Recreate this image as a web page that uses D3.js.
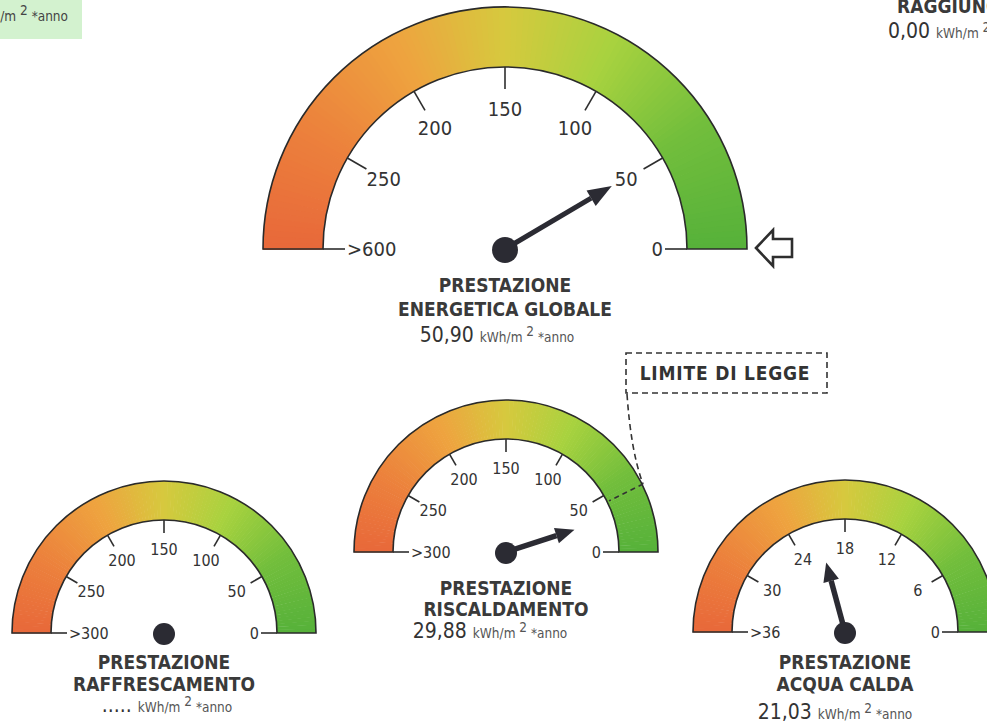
<!DOCTYPE html>
<html>
<head>
<meta charset="utf-8">
<script src="https://cdn.jsdelivr.net/npm/d3@7"></script>
<style>
body { margin: 0; background: #fff; }
text { font-family: "DejaVu Sans Condensed", "DejaVu Sans", sans-serif; fill: #333; }
</style>
</head>
<body>
<div class="graph"></div>
<script>

//data

var gaugeTitles = [
	["PRESTAZIONE", "ENERGETICA GLOBALE"],
	["PRESTAZIONE", "RISCALDAMENTO"],
	["PRESTAZIONE", "RAFFRESCAMENTO"],
	["PRESTAZIONE", "ACQUA CALDA"]
];
var gaugeMax = [300, 300, 300, 36];
var gaugeValues = [50.90, 29.88, null, 21.03];
var valueLabels = ["50,90", "29,88", ".....", "21,03"];
var tickLabels = [
	["0", "50", "100", "150", "200", "250", ">600"],
	["0", "50", "100", "150", "200", "250", ">300"],
	["0", "50", "100", "150", "200", "250", ">300"],
	["0", "6", "12", "18", "24", "30", ">36"]
];
var limitValue = 44;        // limite di legge, riscaldamento
var limitText = "LIMITE DI LEGGE";
var unitText = "kWh/m";

//layout (positions only)

var svgWidth = 987;
var svgHeight = 722;

var layout = [
	{cx: 505, cy: 249, R: 242, r: 182, tick: 22, labelR: 140, endLine: 22, hub: 13, needle: 124, head: 24, headW: 9, font: 20, titleY: [285, 309], valueY: 342, valueX: 497},
	{cx: 506, cy: 552, R: 152, r: 113, tick: 13, labelR: 84, endLine: 16, hub: 11, needle: 72, head: 19, headW: 8, font: 16, titleY: [588, 609], valueY: 638, valueX: 490},
	{cx: 164, cy: 633, R: 152, r: 113, tick: 13, labelR: 84, endLine: 16, hub: 11, needle: 72, head: 19, headW: 8, font: 16, titleY: [662, 684], valueY: 712, valueX: 167},
	{cx: 845, cy: 632, R: 152, r: 113, tick: 13, labelR: 84, endLine: 16, hub: 11, needle: 72, head: 19, headW: 8, font: 16, titleY: [662, 684], valueY: 719, valueX: 835}
];

var bandColor = d3.scaleLinear()
	.domain([0, 0.18, 0.35, 0.5, 0.65, 0.82, 1])
	.range(["#e8683a", "#ec823c", "#eea43f", "#d6c93e", "#a9d23f", "#72be3c", "#56b13a"]);

var svg = d3.select("div.graph")
		.append("svg")
		.attr("width", svgWidth)
		.attr("height", svgHeight)
		.style("display", "block");

function pt(g, a, rad) {
	return [g.cx + rad * Math.cos(a), g.cy - rad * Math.sin(a)];
}

function renderGauge(k) {

	var g = layout[k];
	var max = gaugeMax[k];
	var angle = d3.scaleLinear().domain([0, max]).range([0, Math.PI]);
	var grp = svg.append("g");

	// colour band, small slices along the arc
	var steps = d3.range(120);
	var arc = d3.arc().innerRadius(g.r).outerRadius(g.R);
	grp.append("g")
		.attr("transform", "translate(" + g.cx + "," + g.cy + ")")
		.selectAll("path")
		.data(steps)
		.enter()
		.append("path")
		.attr("d", function(d) {
			var a0 = Math.PI * d / 120, a1 = Math.PI * (d + 1) / 120;
			return arc({startAngle: Math.PI / 2 - a1 - 0.004, endAngle: Math.PI / 2 - a0});
		})
		.attr("fill", function(d) { return bandColor(1 - (d + 0.5) / 120); });

	grp.append("path")
		.attr("transform", "translate(" + g.cx + "," + g.cy + ")")
		.attr("d", arc({startAngle: -Math.PI / 2, endAngle: Math.PI / 2}))
		.attr("fill", "none")
		.attr("stroke", "#2a2a2a")
		.attr("stroke-width", 1.6);

	// ticks and labels
	var ticks = d3.range(7).map(function(i) { return i * max / 6; });

	grp.selectAll("line.tick")
		.data(ticks.slice(1, 6))
		.enter()
		.append("line")
		.attr("class", "tick")
		.attr("x1", function(d) { return pt(g, angle(d), g.r)[0]; })
		.attr("y1", function(d) { return pt(g, angle(d), g.r)[1]; })
		.attr("x2", function(d) { return pt(g, angle(d), g.r - g.tick)[0]; })
		.attr("y2", function(d) { return pt(g, angle(d), g.r - g.tick)[1]; })
		.attr("stroke", "#2e2e2e")
		.attr("stroke-width", 1.6);

	grp.selectAll("text.tl")
		.data(ticks.slice(1, 6))
		.enter()
		.append("text")
		.attr("class", "tl")
		.attr("x", function(d) { return pt(g, angle(d), g.labelR)[0]; })
		.attr("y", function(d) { return pt(g, angle(d), g.labelR)[1]; })
		.attr("dy", "0.36em")
		.attr("text-anchor", "middle")
		.style("font-size", g.font + "px")
		.text(function(d, i) { return tickLabels[k][i + 1]; });

	// end ticks along the base line
	[0, 6].forEach(function(i) {
		var side = i === 0 ? 1 : -1;
		var x0 = g.cx + side * g.r;
		grp.append("line")
			.attr("x1", x0).attr("y1", g.cy)
			.attr("x2", x0 - side * g.endLine).attr("y2", g.cy)
			.attr("stroke", "#2e2e2e")
			.attr("stroke-width", 1.6);
		grp.append("text")
			.attr("x", x0 - side * (g.endLine + 2))
			.attr("y", g.cy)
			.attr("dy", "0.36em")
			.attr("text-anchor", i === 0 ? "end" : "start")
			.style("font-size", g.font + "px")
			.text(tickLabels[k][i]);
	});

	// needle
	if (gaugeValues[k] !== null) {
		var a = angle(gaugeValues[k]);
		var tip = pt(g, a, g.needle);
		var base = pt(g, a, g.needle - g.head);
		var px = Math.sin(a) * g.headW, py = Math.cos(a) * g.headW;
		grp.append("line")
			.attr("x1", g.cx).attr("y1", g.cy)
			.attr("x2", base[0]).attr("y2", base[1])
			.attr("stroke", "#2b2b33")
			.attr("stroke-width", k === 0 ? 5 : 5.5);
		grp.append("path")
			.attr("d", "M" + tip + "L" + [base[0] + px, base[1] + py] + "L" + [base[0] - px, base[1] - py] + "Z")
			.attr("fill", "#2b2b33");
	}
	grp.append("circle")
		.attr("cx", g.cx).attr("cy", g.cy + 1)
		.attr("r", g.hub)
		.attr("fill", "#2b2b33");

	// title and value
	grp.selectAll("text.title")
		.data(gaugeTitles[k])
		.enter()
		.append("text")
		.attr("class", "title")
		.attr("x", g.cx)
		.attr("y", function(d, i) { return g.titleY[i]; })
		.attr("dy", "0.36em")
		.attr("text-anchor", "middle")
		.style("font-size", "19px")
		.style("font-weight", "bold")
		.style("fill", "#3a3a3a")
		.text(function(d) { return d; });

	valueLine(grp, g.valueX, g.valueY, valueLabels[k], "middle");

	return angle;
}

function valueLine(grp, x, y, label, anchor) {
	var t = grp.append("text")
		.attr("x", x)
		.attr("y", y)
		.attr("text-anchor", anchor);
	t.append("tspan").style("font-size", "21px").text(label + " ");
	t.append("tspan").style("font-size", "13.5px").style("fill", "#555").text(unitText + " ");
	t.append("tspan").style("font-size", "13.5px").style("fill", "#555").attr("dy", -6).text("2");
	t.append("tspan").style("font-size", "13.5px").style("fill", "#555").attr("dy", 6).text(" *anno");
}

function renderLimit(angle) {
	var g = layout[1];
	var a = angle(limitValue);
	var outer = pt(g, a, g.R + 1);
	var inner = pt(g, a, g.r + 2);
	var dash = "6,4";

	svg.append("rect")
		.attr("x", 626).attr("y", 353)
		.attr("width", 201).attr("height", 40)
		.attr("fill", "none")
		.attr("stroke", "#333")
		.attr("stroke-width", 1.6)
		.attr("stroke-dasharray", dash);
	svg.append("text")
		.attr("x", 725).attr("y", 373)
		.attr("dy", "0.36em")
		.attr("text-anchor", "middle")
		.style("font-size", "19px")
		.style("font-weight", "bold")
		.style("letter-spacing", "0.8px")
		.text(limitText);

	svg.append("path")
		.attr("d", "M627,394Q631,452," + outer)
		.attr("fill", "none")
		.attr("stroke", "#333")
		.attr("stroke-width", 1.6)
		.attr("stroke-dasharray", dash);
	svg.append("line")
		.attr("x1", outer[0]).attr("y1", outer[1])
		.attr("x2", inner[0]).attr("y2", inner[1])
		.attr("stroke", "#333")
		.attr("stroke-width", 1.6)
		.attr("stroke-dasharray", "5,4");
}

function renderExtras() {
	// pointer arrow next to the main gauge
	svg.append("path")
		.attr("d", "M756,248L773,230L773,239L792,239L792,257L773,257L773,266Z")
		.attr("fill", "#fff")
		.attr("stroke", "#2e2e2e")
		.attr("stroke-width", 2.6)
		.attr("stroke-linejoin", "miter");

	// cut-off box top left
	svg.append("rect")
		.attr("x", 0).attr("y", 0)
		.attr("width", 82).attr("height", 39)
		.attr("fill", "#d3f2cf");
	var t = svg.append("text").attr("x", 68).attr("y", 21).attr("text-anchor", "end");
	t.append("tspan").style("font-size", "13.5px").style("fill", "#444").text(unitText + " ");
	t.append("tspan").style("font-size", "13.5px").style("fill", "#444").attr("dy", -6).text("2");
	t.append("tspan").style("font-size", "13.5px").style("fill", "#444").attr("dy", 6).text(" *anno");

	// cut-off label top right
	svg.append("text")
		.attr("x", 897).attr("y", 13)
		.style("font-size", "19px")
		.style("font-weight", "bold")
		.style("fill", "#3a3a3a")
		.text("RAGGIUNGIBILE");
	valueLine(svg, 888, 38, "0,00", "start");
}

function initial() {
	var angles = d3.range(4).map(renderGauge);
	renderLimit(angles[1]);
	renderExtras();
}

document.addEventListener('DOMContentLoaded', initial);

</script>
</body>
</html>
